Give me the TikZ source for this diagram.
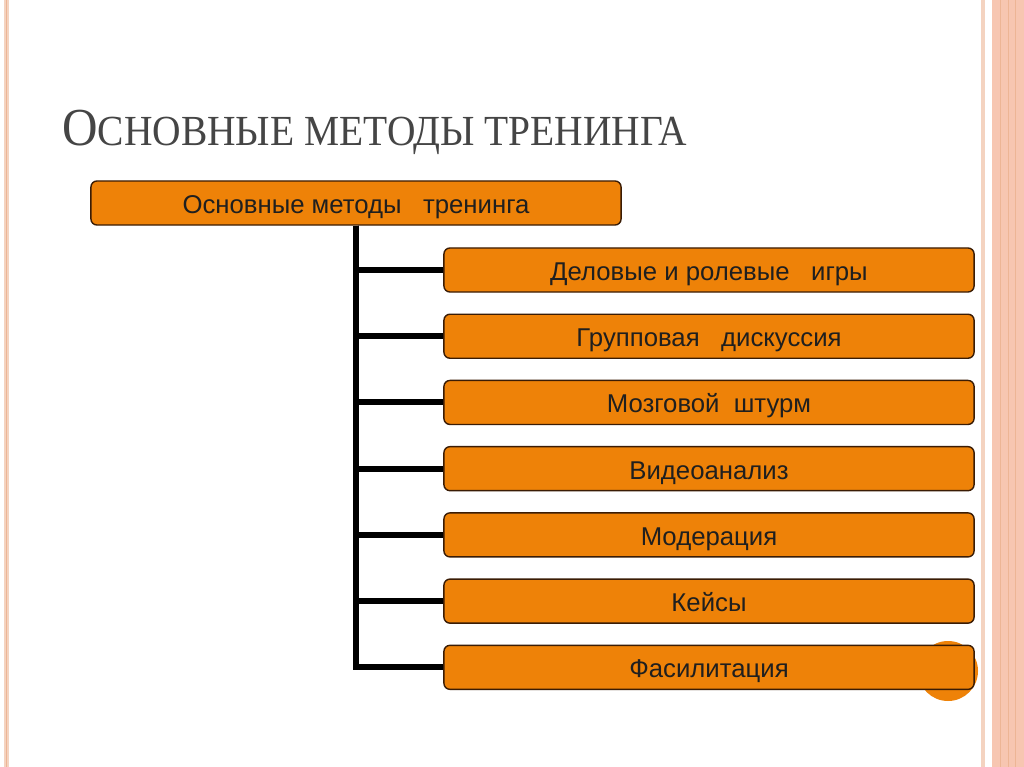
\documentclass[tikz,border=0pt]{standalone}
\usepackage{fontspec}
\setmainfont{Liberation Serif}
\newfontfamily\titlefont[FakeStretch=0.92]{Liberation Serif}
\newfontfamily\boxfont{Liberation Sans}
\usetikzlibrary{positioning}

\definecolor{boxorange}{HTML}{EE8208}
\definecolor{boxedge}{HTML}{3A1C05}
\definecolor{titlegray}{HTML}{454545}
\definecolor{stripelight}{HTML}{F4D3C0}
\definecolor{stripedark}{HTML}{EDB595}
\definecolor{bandpeach}{HTML}{F7C6B1}

\tikzset{
  method/.style={draw=boxedge, fill=boxorange, line width=1pt, rounded corners=0.15cm,
                 minimum width=13.25cm, minimum height=1.1cm, inner sep=0pt,
                 text height=15pt, text depth=0pt,
                 text=black!88, font=\boxfont\fontsize{18.3}{21}\selectfont},
  branch/.style={line width=4.3pt}
}

\begin{document}
\begin{tikzpicture}[x=0.025cm, y=-0.025cm]
\useasboundingbox (0,0) rectangle (1024,767);
\fill[white] (0,0) rectangle (1024,767);

% page border stripes
\fill[stripelight] (4,0) rectangle (9,767);
\fill[stripedark] (6,0) rectangle (7,767);
\fill[stripelight] (981,0) rectangle (985,767);
\fill[bandpeach] (992,0) rectangle (1024,767);
\foreach \xs in {1000,1008,1015}
  \fill[stripedark] (\xs,0) rectangle (\xs+1.2,767);

% title
\node[anchor=base west, inner sep=0pt, text=titlegray] (title) at (62,146)
  {\titlefont\fontsize{38}{42}\selectfont О\fontsize{30.5}{34}\selectfont СНОВНЫЕ МЕТОДЫ ТРЕНИНГА};

% decorative circle
\fill[boxorange] (948,671) circle (30);

\node[method] (root) at (356,203) {Основные методы \ \ тренинга};

\node[method] (m1) at (709,270) {Деловые и ролевые \ \ игры};
\node[method, below=0.52cm of m1] (m2) {Групповая \ \ дискуссия};
\node[method, below=0.52cm of m2] (m3) {Мозговой \ штурм};
\node[method, below=0.52cm of m3] (m4) {Видеоанализ};
\node[method, below=0.52cm of m4] (m5) {Модерация};
\node[method, below=0.52cm of m5] (m6) {Кейсы};
\node[method, below=0.52cm of m6] (m7) {Фасилитация};

\foreach \i in {1,...,7}
  \draw[branch] (root.south) |- (m\i.west);
\end{tikzpicture}
\end{document}
